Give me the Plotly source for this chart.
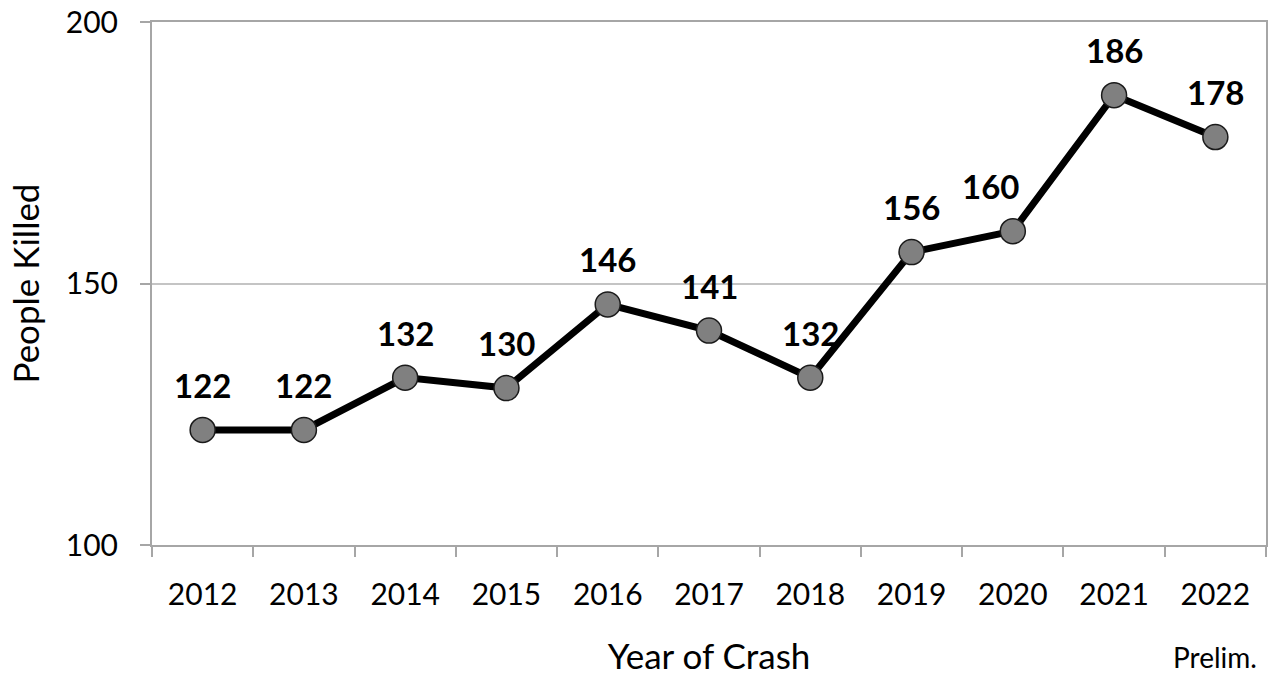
import plotly.graph_objects as go

years = ["2012", "2013", "2014", "2015", "2016", "2017", "2018", "2019", "2020", "2021", "2022"]
killed = [122, 122, 132, 130, 146, 141, 132, 156, 160, 186, 178]
label_xshift = [0, 0, 0, 0, 0, 0, 0, 0, -22, 0, 0]
y_ticks = [100, 150, 200]

FONT = "Lato"

fig = go.Figure()
fig.add_trace(go.Scatter(
    x=years, y=killed, mode="lines+markers",
    line=dict(color="black", width=7),
    marker=dict(size=25, color="#808080", line=dict(color="#1a1a1a", width=1.5)),
    hoverinfo="skip", showlegend=False,
))

annotations = []
for i, (v, dx) in enumerate(zip(killed, label_xshift)):
    annotations.append(dict(x=i, y=v, xref="x", yref="y", text=f"<b>{v}</b>", showarrow=False,
                            yshift=45, xshift=dx,
                            font=dict(family=FONT, size=33, color="black")))
annotations.append(dict(x=len(years) - 1, y=0, xref="x", yref="paper", text="Prelim.",
                        showarrow=False, yshift=-131, font=dict(family=FONT, size=28, color="black")))

fig.update_layout(
    width=1274, height=676,
    margin=dict(l=152, r=8, t=22, b=131),
    plot_bgcolor="white", paper_bgcolor="white",
    font=dict(family=FONT, color="black"),
    annotations=annotations,
    xaxis=dict(
        type="category", range=[-0.5, 10.5], automargin=False,
        showline=True, linecolor="#a6a6a6", linewidth=2, mirror=True,
        ticks="outside", tickson="boundaries", ticklen=10, tickcolor="#a6a6a6", tickwidth=2,
        tickfont=dict(size=30, family=FONT), ticklabelstandoff=22,
        ticklabeloverflow="allow",
        showgrid=False,
        title=dict(text="Year of Crash", font=dict(size=35, family=FONT), standoff=48),
    ),
    yaxis=dict(
        range=[100, 200], tickvals=y_ticks, automargin=False,
        showline=True, linecolor="#a6a6a6", linewidth=2, mirror=True,
        ticks="outside", ticklen=10, tickcolor="#a6a6a6", tickwidth=2,
        tickfont=dict(size=30, family=FONT), ticklabelstandoff=16,
        ticklabeloverflow="allow",
        showgrid=True, gridcolor="#c4c4c4", gridwidth=1.5,
        zeroline=False,
        title=dict(text="People Killed", font=dict(size=35, family=FONT), standoff=16),
    ),
)

fig.write_html("out.html",
               config={"displayModeBar": False},
               post_script="document.body.style.margin='0';document.body.style.overflow='hidden';")
